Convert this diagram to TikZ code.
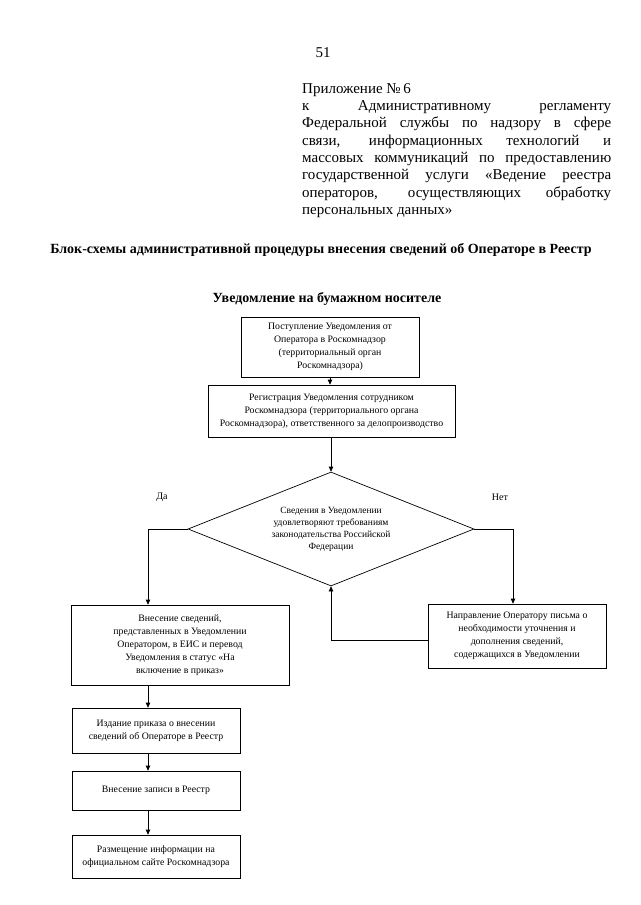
\documentclass[tikz,border=0pt]{standalone}
\usepackage{fontspec}
\setmainfont{Liberation Serif}
\usetikzlibrary{shapes.geometric,arrows.meta}
\begin{document}
\begin{tikzpicture}[x=1pt,y=-1pt,
 box/.style={draw, line width=0.7pt, align=center, inner sep=2pt, font=\fontsize{9.8}{13}\selectfont},
 arr/.style={line width=0.7pt, -{Triangle[length=5pt,width=4.5pt]}},
 hline/.style={anchor=base west, inner sep=0pt, font=\fontsize{15}{17}\selectfont},
 lbl/.style={inner sep=0pt, font=\fontsize{10}{12}\selectfont}]
\useasboundingbox (0,0) rectangle (640,905);
\fill[white] (0,0) rectangle (640,905);

\node[anchor=base, inner sep=0pt, font=\fontsize{15}{17}\selectfont] (pg) at (323,57) {51};
\node[hline] (h0) at (302,93) {Приложение №\,6};
\node[hline] (h1) at (302,110) {\makebox[309pt][s]{к Административному регламенту}};
\node[hline] (h2) at (302,127) {\makebox[309pt][s]{Федеральной службы по надзору в сфере}};
\node[hline] (h3) at (302,145) {\makebox[309pt][s]{связи, информационных технологий и}};
\node[hline] (h4) at (302,162) {\makebox[309pt][s]{массовых коммуникаций по предоставлению}};
\node[hline] (h5) at (302,179) {\makebox[309pt][s]{государственной услуги «Ведение реестра}};
\node[hline] (h6) at (302,197) {\makebox[309pt][s]{операторов, осуществляющих обработку}};
\node[hline] (h7) at (302,214) {персональных данных»};

\node[anchor=base, inner sep=0pt, font=\bfseries\fontsize{14}{16}\selectfont] (title) at (321,253) {Блок-схемы административной процедуры внесения сведений об Операторе в Реестр};
\node[anchor=base, inner sep=0pt, font=\bfseries\fontsize{14}{16}\selectfont] (sub) at (327,302) {Уведомление на бумажном носителе};

\node[box, minimum width=178pt, minimum height=60pt] (b1) at (330,347) {Поступление Уведомления от\\Оператора в Роскомнадзор\\(территориальный орган\\Роскомнадзора)};
\node[box, minimum width=247pt, minimum height=52pt] (b2) at (331.5,411) {Регистрация Уведомления сотрудником\\Роскомнадзора (территориального органа\\Роскомнадзора), ответственного за делопроизводство};
\node[draw, diamond, shape aspect=2.5, line width=0.7pt, minimum width=286pt, minimum height=114pt, inner sep=0pt, align=center, font=\fontsize{9.5}{12}\selectfont] (dia) at (331,529) {Сведения в Уведомлении\\удовлетворяют требованиям\\законодательства Российской\\Федерации};
\node[box, minimum width=218pt, minimum height=80pt] (b3) at (180,645) {Внесение сведений,\\представленных в Уведомлении\\Оператором, в ЕИС и перевод\\Уведомления в статус «На\\включение в приказ»};
\node[box, minimum width=178pt, minimum height=64pt] (b7) at (517,636) {Направление Оператору письма о\\необходимости уточнения и\\дополнения сведений,\\содержащихся в Уведомлении};
\node[box, minimum width=168pt, minimum height=45pt] (b4) at (156,730.5) {Издание приказа о внесении\\сведений об Операторе в Реестр};
\node[box, minimum width=168pt, minimum height=39pt] (b5) at (156,790.5) {Внесение записи в Реестр};
\node[box, minimum width=168pt, minimum height=43pt] (b6) at (156,856.5) {Размещение информации на\\официальном сайте Роскомнадзора};

\node[lbl] (da) at (162,497) {Да};
\node[lbl] (net) at (500,497) {Нет};

\coordinate (colL) at (148,0);
\coordinate (colR) at (513,0);
\coordinate (loopy) at (0,640);
\draw[arr] (b1.south) -- (b1.south |- b2.north);
\draw[arr] (dia.north |- b2.south) -- (dia.north);
\draw[arr] (dia.west) -| (colL |- b3.north);
\draw[arr] (dia.east) -| (colR |- b7.north);
\draw[arr] (b7.west |- loopy) -| (dia.south);
\draw[arr] (colL |- b3.south) -- (colL |- b4.north);
\draw[arr] (colL |- b4.south) -- (colL |- b5.north);
\draw[arr] (colL |- b5.south) -- (colL |- b6.north);
\end{tikzpicture}
\end{document}
